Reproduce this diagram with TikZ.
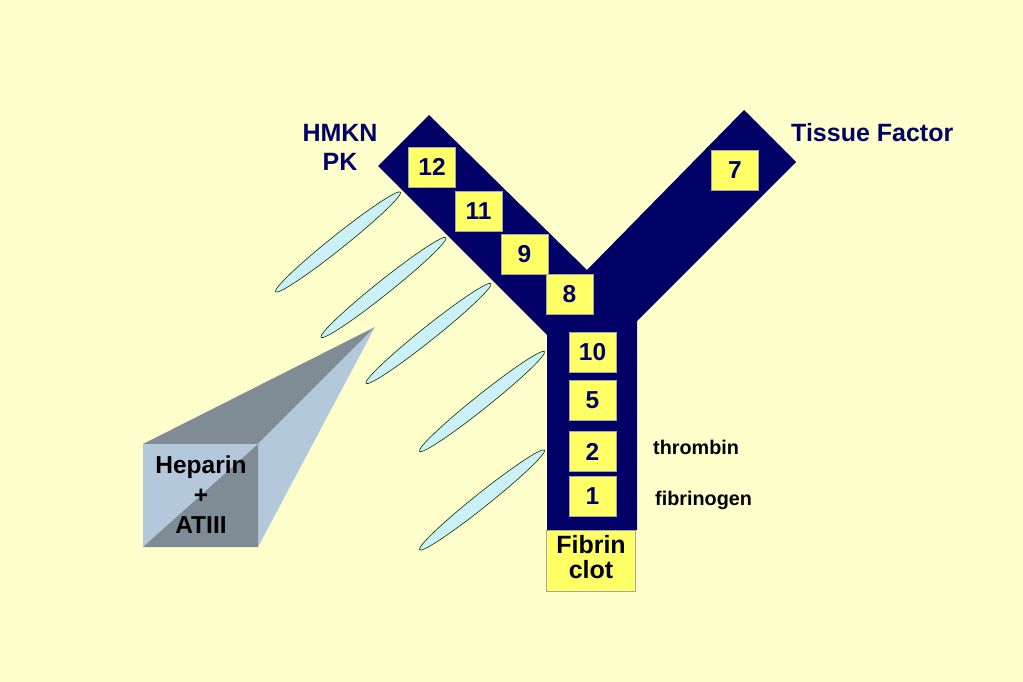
\documentclass[tikz,border=0pt]{standalone}
\usepackage{fontspec}
\setmainfont{Liberation Sans}
\usetikzlibrary{shapes.geometric}
\definecolor{bg}{HTML}{FFFFCC}
\definecolor{navy}{HTML}{000066}
\definecolor{fyellow}{HTML}{FFFF66}
\definecolor{cyanfill}{HTML}{CCF0F8}
\definecolor{darkgray}{HTML}{7F8C96}
\definecolor{lightblue}{HTML}{B4C8DC}
\tikzset{
  factor/.style={draw=gray!70, line width=0.6pt, fill=fyellow, minimum width=47pt, minimum height=40pt, inner sep=0pt,
    text=navy, font=\fontsize{24.5}{27}\selectfont\bfseries},
  blob/.style={draw=black!80!green, line width=0.6pt, fill=cyanfill, ellipse, minimum width=160pt, minimum height=14pt, inner sep=0pt, rotate=38.6},
  lbl/.style={text=navy, font=\fontsize{25}{27}\selectfont\bfseries, inner sep=0pt},
  small/.style={text=black, font=\fontsize{19.8}{21}\selectfont\bfseries, inner sep=0pt},
  blk/.style={text=black, inner sep=0pt, anchor=base}
}
\begin{document}
\begin{tikzpicture}[x=1pt,y=-1pt]
\fill[bg] (0,0) rectangle (1023,682);
\useasboundingbox (0,0) rectangle (1023,682);
% Y shape
\fill[navy] (429,115) -- (587,270) -- (744,110) -- (796,162) -- (637,321) -- (637,530) -- (547,530) -- (547,335) -- (378,166) -- cycle;
% factors
\node[factor] (f12) at (432,167) {12};
\node[factor] (f11) at (478.5,211.5) {11};
\node[factor] (f9) at (524.5,254) {9};
\node[factor] (f8) at (569.5,294) {8};
\node[factor] (f10) at (592.5,352.5) {10};
\node[factor] (f5) at (592.5,400.5) {5};
\node[factor] (f2) at (592.5,451.5) {2};
\node[factor] (f1) at (592.5,496.5) {1};
\node[factor] (f7) at (735,170.5) {7};
\node[factor, minimum width=89pt, minimum height=61pt] (clot) at (590.5,560.5) {};
\node[blk, font=\fontsize{25}{27}\selectfont\bfseries] (fibrin) at (591,553) {Fibrin};
\node[blk, font=\fontsize{25}{27}\selectfont\bfseries] (clottxt) at (591,578) {clot};
% labels
\node[lbl, anchor=base] (hmkn) at (340,142) {HMKN};
\node[lbl, anchor=base] (pk) at (340,171) {PK};
\node[lbl, anchor=base west] (tf) at (791,142) {Tissue Factor};
\node[small, anchor=base west] (thr) at (653,454) {thrombin};
\node[small, anchor=base west] (fbg) at (655,505) {fibrinogen};
% ellipses
\node[blob] (e1) at (338,242) {};
\node[blob] (e2) at (383.5,287.5) {};
\node[blob] (e3) at (428.5,333.5) {};
\node[blob] (e4) at (482,401.5) {};
\node[blob] (e5) at (482,500) {};
% heparin box
\coordinate (ftl) at (143,444);
\coordinate (ftr) at (258,444);
\coordinate (fbl) at (143,547);
\coordinate (fbr) at (258,547);
\coordinate (apex) at (375,327);
\fill[darkgray] (ftl) -- (ftr) -- (apex) -- cycle;
\fill[lightblue] (ftr) -- (apex) -- (fbr) -- cycle;
\fill[lightblue] (ftl) -- (ftr) -- (fbl) -- cycle;
\fill[darkgray] (ftr) -- (fbr) -- (fbl) -- cycle;
\node[blk, font=\fontsize{24.5}{27}\selectfont\bfseries] (hep1) at (201,473) {Heparin};
\node[blk, font=\fontsize{24.5}{27}\selectfont\bfseries] (hep2) at (201,503) {+};
\node[blk, font=\fontsize{24.5}{27}\selectfont\bfseries] (hep3) at (201,533) {ATIII};
\end{tikzpicture}
\end{document}
